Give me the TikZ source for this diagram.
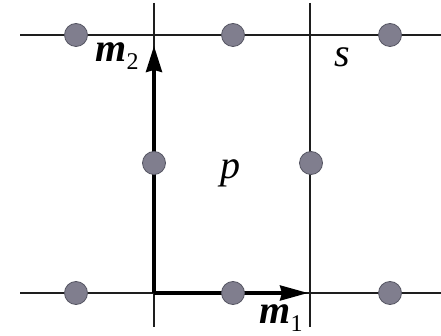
\documentclass[tikz,border=0pt]{standalone}
\usepackage{fontspec}
\setmainfont{Liberation Serif}
\usetikzlibrary{arrows.meta}
\definecolor{dotfill}{RGB}{128,126,142}
\definecolor{dotedge}{RGB}{85,85,98}
\definecolor{linecol}{RGB}{30,30,30}
\newcommand{\msub}[1]{{\bfseries\itshape m}\raisebox{-0.2em}{\fontsize{24}{26}\selectfont #1}}
\begin{document}
\begin{tikzpicture}[x=1pt,y=-1pt,
  thinline/.style={draw=linecol,line width=1.3pt},
  boldline/.style={draw=black,line width=3.4pt},
  site/.style={circle,fill=dotfill,draw=dotedge,line width=0.8pt,minimum size=23pt,inner sep=0pt},
  lab/.style={inner sep=0pt,font=\fontsize{40}{44}\selectfont}]
\useasboundingbox (0,0) rectangle (441,336);
\fill[white] (0,0) rectangle (441,336);
% grid line ends
\coordinate (tl) at (20,35);
\coordinate (tr) at (441,35);
\coordinate (bl) at (20,293);
\coordinate (br) at (441,293);
\coordinate (lt) at (154,3);
\coordinate (lb) at (154,327);
\coordinate (rt) at (310,3);
\coordinate (rb) at (310,327);
\coordinate (o) at (154,293);
\coordinate (a2) at (154,46);
\coordinate (a1) at (308,293);
% thin grid
\draw[thinline] (tl) -- (tr);
\draw[thinline] (bl) -- (br);
\draw[thinline] (lt) -- (lb);
\draw[thinline] (rt) -- (rb);
% bold vectors
\draw[boldline,-{Stealth[length=28pt,width=15pt,inset=2pt]}] (o) -- (a1);
\draw[boldline,-{Stealth[length=26pt,width=16pt,inset=2pt]}] (o) -- (a2);
% sites
\node[site] (t1) at (76,35) {};
\node[site] (t2) at (233,35) {};
\node[site] (t3) at (390,35) {};
\node[site] (m1) at (154,163) {};
\node[site] (m2) at (311,163) {};
\node[site] (b1) at (76,293) {};
\node[site] (b2) at (233,293) {};
\node[site] (b3) at (390,293) {};
% labels
\node[lab] (lm2) at (117,56) {\msub{2}};
\node[lab] (lm1) at (281,318) {\msub{1}};
\node[lab] (ls) at (342,57) {\textit{s}};
\node[lab] (lp) at (230,173) {\textit{p}};
\end{tikzpicture}
\end{document}
